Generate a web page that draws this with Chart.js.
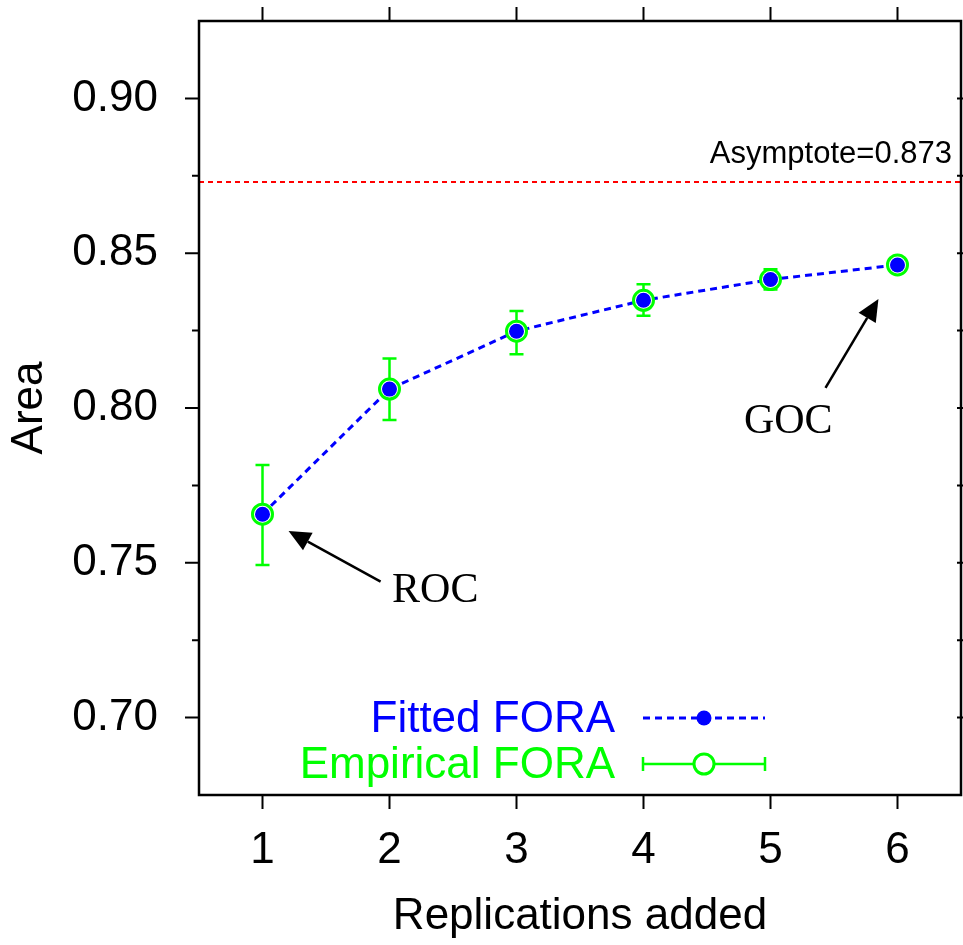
<!DOCTYPE html>
<html><head><meta charset="utf-8">
<script src="https://cdn.jsdelivr.net/npm/chart.js@4/dist/chart.umd.min.js"></script>
<style>html,body{margin:0;padding:0;background:#fff;overflow:hidden}#wrap{width:963px;height:945px}</style>
</head><body><div id="wrap"><canvas id="c" width="963" height="945"></canvas></div>
<script>
// ---- data ----
const replications = [1, 2, 3, 4, 5, 6];
const fittedFORA = [0.7657, 0.8061, 0.8248, 0.8348, 0.8415, 0.8462];
const empiricalFORA = [0.7657, 0.8061, 0.8248, 0.8348, 0.8415, 0.8462];
const empiricalUpper = [0.7816, 0.8160, 0.8313, 0.8400, 0.8448, 0.8474];
const empiricalLower = [0.7493, 0.7961, 0.8174, 0.8298, 0.8383, 0.8450];
const asymptote = 0.873;
const asymptoteLabel = 'Asymptote=0.873';
const xTickValues = [1, 2, 3, 4, 5, 6];
const yTickValues = [0.70, 0.75, 0.80, 0.85, 0.90];
const yMinorTickValues = [0.725, 0.775, 0.825, 0.875];
const annotationTexts = ['ROC', 'GOC'];
const annotationTails = [[1.93, 0.7439], [5.433, 0.8065]];
const annotationTips = [[1.205, 0.7603], [5.85, 0.8352]];
const annotationLabelAt = [[2.36, 0.7374], [5.14, 0.7919]];
const legendLabels = ['Fitted FORA', 'Empirical FORA'];

const BLUE = '#0000ff', GREEN = '#00ff00', RED = '#ff0000';
const SANS = '"Liberation Sans", Arial, Helvetica, sans-serif';
const SERIF = '"Liberation Serif", "Times New Roman", serif';

const pts = a => replications.map((x, i) => ({x: x, y: a[i]}));

const decor = {
  id: 'decor',
  beforeDatasetsDraw(chart) {
    const ctx = chart.ctx, xs = chart.scales.x, ys = chart.scales.y, ca = chart.chartArea;
    ctx.save();
    ctx.strokeStyle = RED; ctx.lineWidth = 2; ctx.setLineDash([5, 4]);
    const ay = ys.getPixelForValue(asymptote);
    ctx.beginPath(); ctx.moveTo(ca.left, ay); ctx.lineTo(ca.right, ay); ctx.stroke();
    ctx.setLineDash([]);
    ctx.strokeStyle = GREEN; ctx.lineWidth = 2.5;
    replications.forEach((r, i) => {
      const px = xs.getPixelForValue(r);
      const t = ys.getPixelForValue(empiricalUpper[i]);
      const b = ys.getPixelForValue(empiricalLower[i]);
      ctx.beginPath();
      ctx.moveTo(px, t); ctx.lineTo(px, b);
      ctx.moveTo(px - 7, t); ctx.lineTo(px + 7, t);
      ctx.moveTo(px - 7, b); ctx.lineTo(px + 7, b);
      ctx.stroke();
    });
    ctx.restore();
  },
  afterDraw(chart) {
    const ctx = chart.ctx, xs = chart.scales.x, ys = chart.scales.y, ca = chart.chartArea;
    ctx.save();
    ctx.strokeStyle = '#000'; ctx.lineWidth = 2.5;
    ctx.strokeRect(ca.left, ca.top, ca.right - ca.left, ca.bottom - ca.top);
    ctx.lineWidth = 2;
    ctx.beginPath();
    xTickValues.forEach(v => {
      const px = xs.getPixelForValue(v);
      ctx.moveTo(px, ca.bottom); ctx.lineTo(px, ca.bottom + 14);
      ctx.moveTo(px, ca.top); ctx.lineTo(px, ca.top - 14);
    });
    yTickValues.forEach(v => {
      const py = ys.getPixelForValue(v);
      ctx.moveTo(ca.left, py); ctx.lineTo(ca.left - 14, py);
      ctx.moveTo(ca.right - 4, py); ctx.lineTo(ca.right + 10, py);
    });
    yMinorTickValues.forEach(v => {
      const py = ys.getPixelForValue(v);
      ctx.moveTo(ca.left, py); ctx.lineTo(ca.left - 7, py);
      ctx.moveTo(ca.right - 4, py); ctx.lineTo(ca.right + 10, py);
    });
    ctx.stroke();
    ctx.fillStyle = '#000'; ctx.font = '31px ' + SANS;
    ctx.textAlign = 'right'; ctx.textBaseline = 'alphabetic';
    ctx.fillText(asymptoteLabel, ca.right - 9, ys.getPixelForValue(asymptote) - 19);
    annotationTexts.forEach((txt, i) => {
      const x0 = xs.getPixelForValue(annotationTails[i][0]), y0 = ys.getPixelForValue(annotationTails[i][1]);
      const x1 = xs.getPixelForValue(annotationTips[i][0]), y1 = ys.getPixelForValue(annotationTips[i][1]);
      const ang = Math.atan2(y1 - y0, x1 - x0), hl = 22, hw = 10;
      const bx = x1 - hl * Math.cos(ang), by = y1 - hl * Math.sin(ang);
      ctx.strokeStyle = '#000'; ctx.lineWidth = 2.5;
      ctx.beginPath(); ctx.moveTo(x0, y0); ctx.lineTo(bx, by); ctx.stroke();
      ctx.fillStyle = '#000';
      ctx.beginPath();
      ctx.moveTo(x1, y1);
      ctx.lineTo(bx + hw * Math.sin(ang), by - hw * Math.cos(ang));
      ctx.lineTo(bx - hw * Math.sin(ang), by + hw * Math.cos(ang));
      ctx.closePath(); ctx.fill();
      ctx.font = '42px ' + SERIF; ctx.textAlign = 'center';
      ctx.fillText(txt, xs.getPixelForValue(annotationLabelAt[i][0]), ys.getPixelForValue(annotationLabelAt[i][1]));
    });
    ctx.font = '44px ' + SANS; ctx.textAlign = 'right';
    ctx.fillStyle = BLUE; ctx.fillText(legendLabels[0], 615, 732);
    ctx.fillStyle = GREEN; ctx.fillText(legendLabels[1], 615, 778);
    ctx.strokeStyle = BLUE; ctx.lineWidth = 3; ctx.setLineDash([7, 5]);
    ctx.beginPath(); ctx.moveTo(643, 718); ctx.lineTo(765, 718); ctx.stroke();
    ctx.setLineDash([]);
    ctx.fillStyle = BLUE; ctx.beginPath(); ctx.arc(704, 718, 7.5, 0, Math.PI * 2); ctx.fill();
    ctx.strokeStyle = GREEN; ctx.lineWidth = 2.5;
    ctx.beginPath();
    ctx.moveTo(643, 764); ctx.lineTo(765, 764);
    ctx.moveTo(643, 757); ctx.lineTo(643, 771);
    ctx.moveTo(765, 757); ctx.lineTo(765, 771);
    ctx.stroke();
    ctx.fillStyle = '#fff'; ctx.lineWidth = 3;
    ctx.beginPath(); ctx.arc(704, 764, 10, 0, Math.PI * 2); ctx.fill(); ctx.stroke();
    ctx.restore();
  }
};

new Chart(document.getElementById('c'), {
  type: 'line',
  data: {
    datasets: [
      { label: 'Fitted FORA line', data: pts(fittedFORA), borderColor: BLUE, borderWidth: 3,
        borderDash: [7, 5], pointRadius: 0, fill: false, tension: 0, order: 3 },
      { label: 'Empirical FORA', data: pts(empiricalFORA), showLine: false, pointRadius: 10,
        pointBorderWidth: 3, pointBorderColor: GREEN, pointBackgroundColor: '#fff', order: 2 },
      { label: 'Fitted FORA', data: pts(fittedFORA), showLine: false, pointRadius: 7.5,
        pointBorderWidth: 0, pointBackgroundColor: BLUE, pointBorderColor: BLUE, order: 1 }
    ]
  },
  options: {
    responsive: false, animation: false, devicePixelRatio: 1,
    layout: { autoPadding: false, padding: { left: 0, top: 21, right: 2, bottom: 0 } },
    plugins: { legend: { display: false }, tooltip: { enabled: false } },
    scales: {
      x: {
        type: 'linear', min: 0.5, max: 6.5, position: 'bottom',
        afterBuildTicks: s => { s.ticks = xTickValues.map(v => ({ value: v })); },
        afterFit: s => { s.height = 150; s.paddingLeft = 0; s.paddingRight = 0; s.paddingTop = 0; s.paddingBottom = 0; },
        grid: { display: false, drawTicks: false }, border: { display: false },
        ticks: { font: { family: SANS, size: 44 }, color: '#000', padding: 29, maxRotation: 0,
                 callback: v => String(v) },
        title: { display: true, text: 'Replications added', color: '#000',
                 font: { family: SANS, size: 44 }, padding: { top: 0, bottom: 2 } }
      },
      y: {
        type: 'linear', min: 0.675, max: 0.925,
        afterBuildTicks: s => { s.ticks = yTickValues.map(v => ({ value: v })); },
        afterFit: s => { s.width = 199; s.paddingLeft = 0; s.paddingRight = 0; s.paddingTop = 0; s.paddingBottom = 0; },
        grid: { display: false, drawTicks: false }, border: { display: false },
        ticks: { font: { family: SANS, size: 44 }, color: '#000', padding: 41,
                 callback: v => Number(v).toFixed(2) },
        title: { display: true, text: 'Area', color: '#000',
                 font: { family: SANS, size: 44 }, padding: { top: 3, bottom: 0 } }
      }
    }
  },
  plugins: [decor]
});
</script>
</body></html>
